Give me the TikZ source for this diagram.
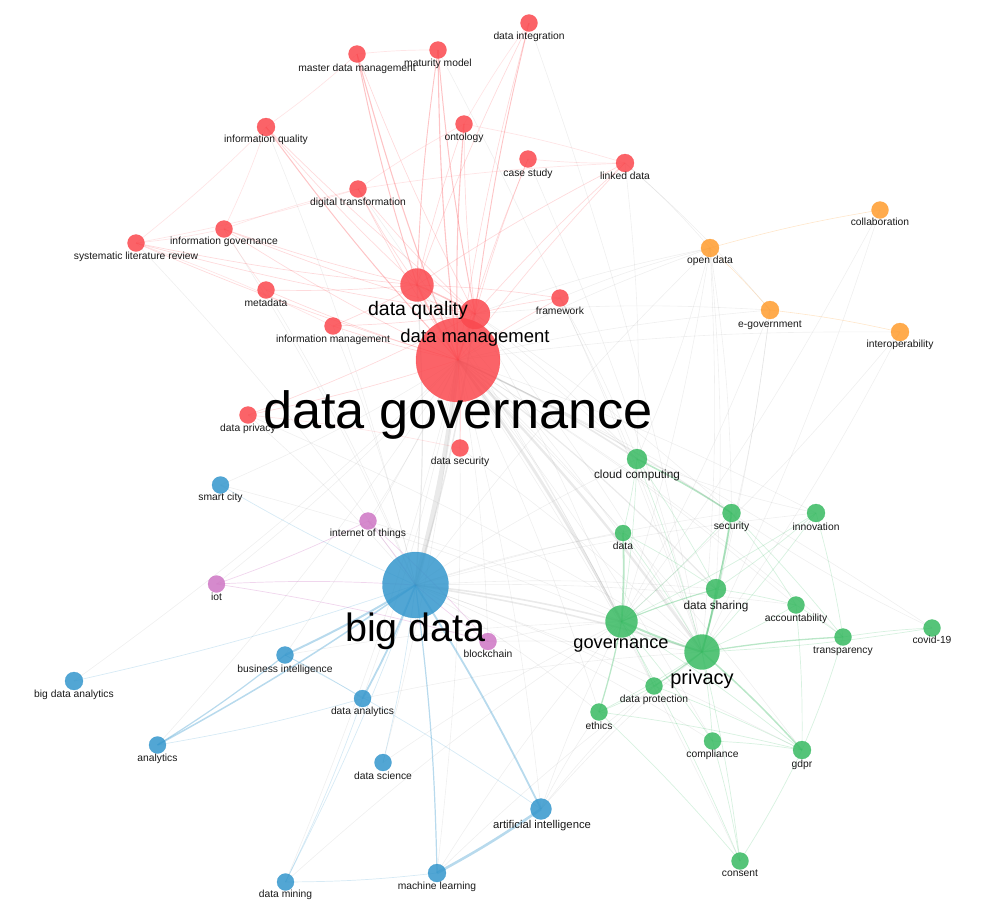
\documentclass[tikz,border=0pt]{standalone}
\usepackage{fontspec}
\setmainfont{Liberation Sans}
\definecolor{kred}{RGB}{250,72,78}
\definecolor{kblue}{RGB}{52,150,204}
\definecolor{kgreen}{RGB}{56,186,98}
\definecolor{korange}{RGB}{255,156,46}
\definecolor{kpurple}{RGB}{206,118,196}
\definecolor{kgrey}{RGB}{150,150,150}
\pgfdeclarelayer{bg}
\pgfsetlayers{bg,main}
\begin{document}
\begin{tikzpicture}[x=1pt,y=-1pt,
  kw/.style={circle, inner sep=0pt, outer sep=0pt, fill opacity=0.85, draw opacity=0.6, line width=0.4pt},
  rn/.style={kw, fill=kred, draw=kred},
  bn/.style={kw, fill=kblue, draw=kblue},
  gn/.style={kw, fill=kgreen, draw=kgreen},
  on/.style={kw, fill=korange, draw=korange},
  pn/.style={kw, fill=kpurple, draw=kpurple},
  lab/.style={anchor=base, inner sep=0pt, outer sep=0pt, text=black!90, font=\fontsize{10.3}{12}\selectfont},
  labm/.style={anchor=base, inner sep=0pt, outer sep=0pt, text=black!90, font=\fontsize{11.8}{14}\selectfont},
  labsz/.style={anchor=base, inner sep=0pt, outer sep=0pt, text=black, font=\fontsize{#1}{#1}\selectfont},
  ge/.style={draw=kgrey, draw opacity=0.15, line width=0.6pt},
  re/.style={draw=kred, draw opacity=0.2, line width=0.7pt},
  be/.style={draw=kblue, draw opacity=0.3, line width=0.7pt},
  gre/.style={draw=kgreen, draw opacity=0.3, line width=0.7pt},
  oe/.style={draw=korange, draw opacity=0.25, line width=0.6pt},
  pe/.style={draw=kpurple, draw opacity=0.3, line width=0.7pt}
]
\useasboundingbox (0,0) rectangle (1000,919);

% ---------- red cluster ----------
\node[rn, minimum size=84pt] (dg) at (458,360) {};
\node[rn, minimum size=33pt] (dq) at (417,285) {};
\node[rn, minimum size=30pt] (dm) at (475,314) {};
\node[rn, minimum size=17pt] (mdm) at (357,54) {};
\node[rn, minimum size=17pt] (mm) at (438,50) {};
\node[rn, minimum size=17pt] (di) at (529,23) {};
\node[rn, minimum size=18pt] (iq) at (266,127) {};
\node[rn, minimum size=17pt] (ont) at (464,124) {};
\node[rn, minimum size=17pt] (cs) at (528,159) {};
\node[rn, minimum size=18pt] (ld) at (625,163) {};
\node[rn, minimum size=17pt] (dt) at (358,189) {};
\node[rn, minimum size=17pt] (ig) at (224,229) {};
\node[rn, minimum size=17pt] (slr) at (136,243) {};
\node[rn, minimum size=17pt] (md) at (266,290) {};
\node[rn, minimum size=17pt] (fw) at (560,298) {};
\node[rn, minimum size=17pt] (im) at (333,326) {};
\node[rn, minimum size=17pt] (dp) at (248,415) {};
\node[rn, minimum size=17pt] (dsec) at (460,448) {};

% ---------- orange cluster ----------
\node[on, minimum size=17pt] (col) at (880,210) {};
\node[on, minimum size=18pt] (od) at (710,248) {};
\node[on, minimum size=18pt] (eg) at (770,310) {};
\node[on, minimum size=18pt] (iop) at (900,332) {};

% ---------- green cluster ----------
\node[gn, minimum size=20pt] (cc) at (637,459) {};
\node[gn, minimum size=18pt] (sec) at (731.5,513) {};
\node[gn, minimum size=18pt] (inn) at (816,513) {};
\node[gn, minimum size=16pt] (dat) at (623,533) {};
\node[gn, minimum size=20pt] (dsh) at (716,589) {};
\node[gn, minimum size=17pt] (acc) at (796,605) {};
\node[gn, minimum size=32pt] (gov) at (621.5,621.5) {};
\node[gn, minimum size=35pt] (pri) at (702,652) {};
\node[gn, minimum size=17pt] (tra) at (843,637) {};
\node[gn, minimum size=17pt] (cov) at (932,628) {};
\node[gn, minimum size=17pt] (dpr) at (654,686) {};
\node[gn, minimum size=17pt] (eth) at (599,712) {};
\node[gn, minimum size=17pt] (com) at (712.5,741) {};
\node[gn, minimum size=18pt] (gdpr) at (802,750) {};
\node[gn, minimum size=17pt] (con) at (740,861) {};

% ---------- blue cluster ----------
\node[bn, minimum size=66pt] (bd) at (415.5,585) {};
\node[bn, minimum size=17pt] (sc) at (220.5,485) {};
\node[bn, minimum size=18pt] (bda) at (74,681) {};
\node[bn, minimum size=17pt] (bi) at (285,655) {};
\node[bn, minimum size=17pt] (da) at (362.5,698.5) {};
\node[bn, minimum size=17pt] (ana) at (157.5,745) {};
\node[bn, minimum size=17pt] (dsc) at (383,762.5) {};
\node[bn, minimum size=21pt] (ai) at (541,809) {};
\node[bn, minimum size=17pt] (dmi) at (285.5,882) {};
\node[bn, minimum size=18pt] (ml) at (437,873) {};

% ---------- purple cluster ----------
\node[pn, minimum size=17pt] (iot2) at (368,521) {};
\node[pn, minimum size=17pt] (iot) at (216.5,584) {};
\node[pn, minimum size=17pt] (bc) at (488,641.5) {};

% ---------- connectors ----------
\begin{pgfonlayer}{bg}
% grey inter-cluster links
\foreach \a/\b/\w in {dg/bd/5, dg/gov/2.4, dg/pri/2.4, dg/cc/1.6, bd/gov/1.6, bd/pri/1.6, dm/bd/1.5, dq/bd/1.2, dg/sec/1.2, dg/dsh/1.2}
  \draw[ge, line width=\w pt, draw opacity=0.2] (\a.center) to[bend left=4] (\b.center);
\foreach \a/\b in {dg/dat, dg/eth, dg/dpr, dg/com, dg/gdpr, dg/acc, dg/tra, dg/inn, dg/od, dg/eg, dg/iop, dg/ai, dg/ml, dg/da, dg/bi, dg/sc, dg/iot, dg/iot2, dg/bc, dg/dmi, dg/dsc, dg/con, dg/cov, dg/ana, dg/bda,
  bd/cc, bd/dsh, bd/eth, bd/sec, bd/dat, bd/od, bd/dpr, bd/com, bd/gdpr, bd/inn, bd/acc,
  dm/gov, dm/pri, dm/cc, dm/od, dm/eg, dm/sec, dq/pri, dq/gov, dq/cc,
  ld/od, ld/cc, ld/eg, od/cc, od/sec, od/dsh, od/gov, od/pri, eg/pri, eg/gov, eg/dsh, col/pri, col/gov, iop/pri, iop/gov,
  ai/eth, ai/pri, ai/gov, ml/gov, ai/dpr, ml/pri, cov/sec, md/bd, im/bd, dp/bd, ig/bd, slr/bd, fw/cc, fw/od, fw/pri,
  iq/bd, dt/gov, cs/pri, mm/pri, di/pri, sc/gov, bi/gov, da/pri, dsc/gov, dmi/gov, iot2/pri, bc/pri, bc/gov, dsec/pri, dp/pri, inn/cc}
  \draw[ge] (\a.center) to[bend left=4] (\b.center);

% red links
\foreach \a/\b/\w in {dg/dq/1.8, dg/dm/1.8, dq/dm/1.4, dg/mdm/1.1, dg/mm/1.1, dg/ont/1.1, dg/iq/1.0, dm/mm/1.0, dq/mdm/1.0, dm/di/0.9, dq/mm/0.9}
  \draw[re, line width=\w pt, draw opacity=0.32] (\a.center) to[bend left=3] (\b.center);
\foreach \a/\b in {dg/di, dg/cs, dg/ld, dg/dt, dg/ig, dg/slr, dg/md, dg/fw, dg/im, dg/dp, dg/dsec,
  dq/iq, dq/di, dq/ont, dq/ld, dq/ig, dq/slr, dq/md, dq/im, dq/dt, dq/fw,
  dm/mdm, dm/ont, dm/cs, dm/ld, dm/fw, dm/im, dm/iq, dm/ig, dm/slr, dm/dt, dm/dp}
  \draw[re] (\a.center) to[bend left=3] (\b.center);
\foreach \a/\b in {mdm/mm, mdm/iq, iq/ig, iq/slr, ig/slr, ig/dt, dt/slr, ont/ld, ont/di, dt/ld, slr/im, dp/dsec, md/ig, ld/cs, dt/ont}
  \draw[re, draw opacity=0.14] (\a.center) to[bend left=3] (\b.center);

% orange links
\foreach \a/\b in {od/col, od/eg, eg/iop}
  \draw[oe] (\a.center) to[bend left=3] (\b.center);

% blue links
\foreach \a/\b/\w in {bd/bi/2.0, bd/da/1.8, bd/ana/1.5, bd/ai/1.8, ai/ml/2.6, bd/ml/1.2, bi/ana/1.2}
  \draw[be, line width=\w pt, draw opacity=0.35] (\a.center) to[bend left=3] (\b.center);
\foreach \a/\b in {bd/bda, bd/sc, bd/dsc, bd/dmi, bi/da, ml/dmi, da/dmi, bi/ai, da/ana}
  \draw[be, draw opacity=0.2] (\a.center) to[bend left=3] (\b.center);

% purple links
\foreach \a/\b in {iot2/iot, iot/bd, iot2/bd, bc/bd, iot/bc, iot2/bc}
  \draw[pe] (\a.center) to[bend left=3] (\b.center);

% green links
\foreach \a/\b/\w in {sec/pri/2.0, dat/gov/1.8, pri/gov/2.0, cc/sec/1.5, dsh/pri/1.5, pri/gdpr/1.5, pri/tra/1.3, gov/eth/1.3, pri/dpr/1.2, gov/dsh/1.1}
  \draw[gre, line width=\w pt, draw opacity=0.35] (\a.center) to[bend left=3] (\b.center);
\foreach \a/\b in {cc/gov, cc/pri, cc/dsh, cc/dat, sec/dsh, sec/tra, inn/dsh, inn/gov, inn/pri, dat/pri, dsh/acc, acc/tra, acc/pri, tra/cov,
  pri/eth, pri/com, pri/con, gov/dpr, gov/com, gov/gdpr, dpr/eth, dpr/gdpr, eth/gdpr, com/con, gdpr/con, com/gdpr, eth/con, gov/con,
  acc/gdpr, tra/gdpr, cov/pri, sec/acc, dat/dsh, sec/gov, inn/tra}
  \draw[gre, draw opacity=0.2] (\a.center) to[bend left=3] (\b.center);
\end{pgfonlayer}

% ---------- labels ----------
\node[lab] (Lmdm) at (357,71.2) {master data management};
\node[lab] (Lmm) at (438,66.8) {maturity model};
\node[lab] (Ldi) at (529,39.5) {data integration};
\node[lab] (Liq) at (266,142.8) {information quality};
\node[lab] (Lont) at (464,140.2) {ontology};
\node[lab] (Lcs) at (528,176.2) {case study};
\node[lab] (Lld) at (625,179.5) {linked data};
\node[lab] (Ldt) at (358,205.8) {digital transformation};
\node[lab] (Lig) at (224,244.2) {information governance};
\node[lab] (Lslr) at (136,259.5) {systematic literature review};
\node[lab] (Lmd) at (266,306.8) {metadata};
\node[lab] (Lfw) at (560,314.5) {framework};
\node[lab] (Lim) at (333,342.8) {information management};
\node[lab] (Ldp) at (248,431.2) {data privacy};
\node[lab] (Ldsec) at (460,464.2) {data security};
\node[labsz=19.5] (Ldq) at (418,315) {data quality};
\node[labsz=18.5] (Ldm) at (475,342) {data management};
\node[labsz=52.3] (Ldg) at (458,428) {data governance};

\node[lab] (Lcol) at (880,225.8) {collaboration};
\node[lab] (Lod) at (710,263.5) {open data};
\node[lab] (Leg) at (770,327.5) {e-government};
\node[lab] (Liop) at (900,347.8) {interoperability};

\node[labm] (Lcc) at (637,478.5) {cloud computing};
\node[lab] (Lsec) at (731.5,529.5) {security};
\node[lab] (Linn) at (816,530.5) {innovation};
\node[lab] (Ldat) at (623,549.5) {data};
\node[labm] (Ldsh) at (716,609.2) {data sharing};
\node[lab] (Lacc) at (796,621.8) {accountability};
\node[labsz=18.2] (Lgov) at (621,648) {governance};
\node[labsz=20] (Lpri) at (702,684) {privacy};
\node[lab] (Ltra) at (843,653.5) {transparency};
\node[lab] (Lcov) at (932,643.5) {covid-19};
\node[lab] (Ldpr) at (654,702.8) {data protection};
\node[lab] (Leth) at (599,729.5) {ethics};
\node[lab] (Lcom) at (712.5,757.8) {compliance};
\node[lab] (Lgdpr) at (802,767.5) {gdpr};
\node[lab] (Lcon) at (740,876.8) {consent};

\node[labsz=39.5] (Lbd) at (415.5,641) {big data};
\node[lab] (Lsc) at (220.5,500.8) {smart city};
\node[lab] (Lbda) at (74,697.5) {big data analytics};
\node[lab] (Lbi) at (285,672.2) {business intelligence};
\node[lab] (Lda) at (362.5,714.2) {data analytics};
\node[lab] (Lana) at (157.5,761.8) {analytics};
\node[lab] (Ldsc) at (383,779.5) {data science};
\node[labm, font=\fontsize{11.3}{13}\selectfont] (Lai) at (542,828.3) {artificial intelligence};
\node[lab] (Ldmi) at (285.5,897.5) {data mining};
\node[lab] (Lml) at (437,889.5) {machine learning};

\node[lab] (Liot2) at (368,536.8) {internet of things};
\node[lab] (Liot) at (216.5,600.2) {iot};
\node[lab] (Lbc) at (488,657.5) {blockchain};
\end{tikzpicture}
\end{document}
